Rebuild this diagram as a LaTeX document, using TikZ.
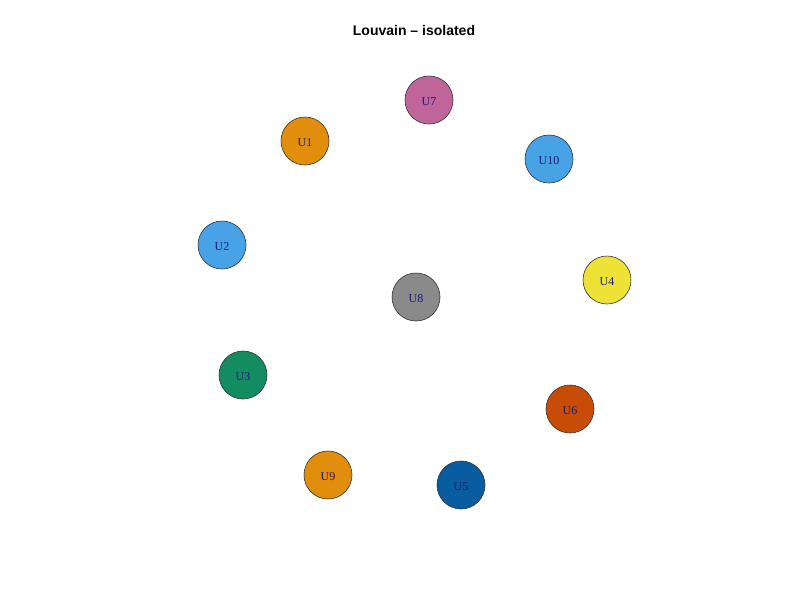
\documentclass[tikz,border=0pt]{standalone}
\usepackage{fontspec}
\setmainfont{Liberation Serif}
\newfontfamily\titlefont{Liberation Sans}
\definecolor{cU1}{HTML}{E08E0B}
\definecolor{cU2}{HTML}{48A3E6}
\definecolor{cU3}{HTML}{138C62}
\definecolor{cU4}{HTML}{EEE236}
\definecolor{cU5}{HTML}{0A5CA0}
\definecolor{cU6}{HTML}{C94C04}
\definecolor{cU7}{HTML}{C0659A}
\definecolor{cU8}{HTML}{8A8A8A}
\definecolor{cU9}{HTML}{E08E0B}
\definecolor{cU10}{HTML}{48A3E6}
\definecolor{labelc}{HTML}{1A1A7A}
\tikzset{vtx/.style={circle,draw=black!80,line width=0.6pt,minimum size=48pt,inner sep=0pt,text=labelc,text height=11pt,text depth=0pt,font=\fontsize{12}{12}\selectfont}}
\begin{document}
\begin{tikzpicture}[x=1pt,y=-1pt]
\useasboundingbox (0,0) rectangle (800,600);
\node[font=\titlefont\bfseries\fontsize{14}{14}\selectfont] (title) at (414,30) {Louvain – isolated};
\node[vtx,fill=cU7] (U7) at (429,100) {U7};
\node[vtx,fill=cU1] (U1) at (305,141) {U1};
\node[vtx,fill=cU10] (U10) at (549,159) {U10};
\node[vtx,fill=cU2] (U2) at (222,245) {U2};
\node[vtx,fill=cU4] (U4) at (607,280) {U4};
\node[vtx,fill=cU8] (U8) at (416,297) {U8};
\node[vtx,fill=cU3] (U3) at (243,375) {U3};
\node[vtx,fill=cU6] (U6) at (570,409) {U6};
\node[vtx,fill=cU9] (U9) at (328,475) {U9};
\node[vtx,fill=cU5] (U5) at (461,485) {U5};
\end{tikzpicture}
\end{document}
